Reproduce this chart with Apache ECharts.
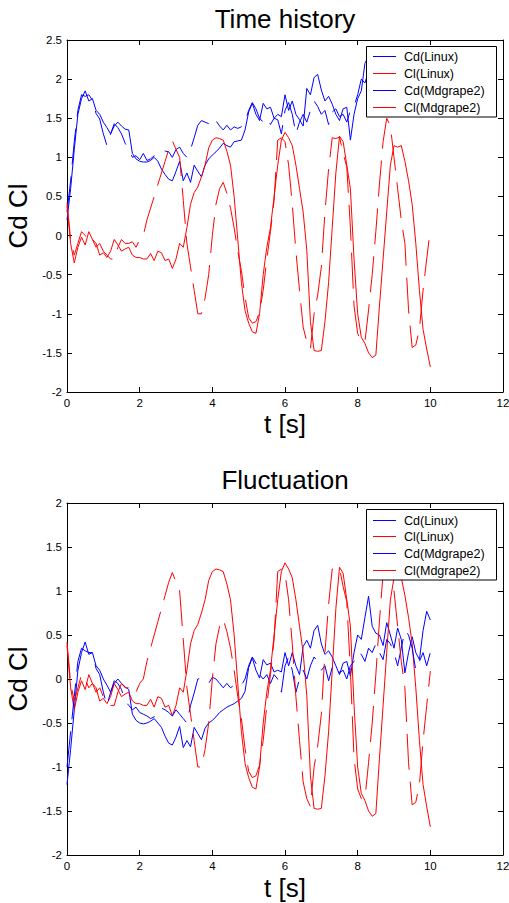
<!DOCTYPE html>
<html>
<head>
<meta charset="utf-8">
<script src="https://cdn.jsdelivr.net/npm/echarts@6/dist/echarts.min.js"></script>
<style>
html,body{margin:0;padding:0;background:#fff;}
#chart{width:509px;height:903px;}
</style>
</head>
<body>
<div id="chart"></div>
<script>
// time axis values (s)
var time = [0,0.1,0.2,0.3,0.4,0.5,0.6,0.7,0.8,0.9,
 1,1.1,1.2,1.3,1.4,1.5,1.6,1.7,1.8,1.9,
 2,2.1,2.2,2.3,2.4,2.5,2.6,2.7,2.8,2.9,
 3,3.1,3.2,3.3,3.4,3.5,3.6,3.7,3.8,3.9,
 4,4.1,4.2,4.3,4.4,4.5,4.6,4.7,4.8,4.9,
 5,5.1,5.2,5.3,5.4,5.5,5.6,5.7,5.8,5.9,
 6,6.1,6.2,6.3,6.4,6.5,6.6,6.7,6.8,6.9,
 7,7.1,7.2,7.3,7.4,7.5,7.6,7.7,7.8,7.9,
 8,8.1,8.2,8.3,8.4,8.5,8.6,8.7,8.8,8.9,
 9,9.1,9.2,9.3,9.4,9.5,9.6,9.7,9.8,9.9,10];

// Time history: Cd
var cdLinux = [0.2,0.6,1.1,1.55,1.75,1.85,1.72,1.75,1.6,1.55,
 1.45,1.38,1.3,1.4,1.45,1.4,1.36,1.35,1.05,0.98,
 0.95,0.94,0.94,0.96,1.0,0.95,0.85,0.78,0.72,0.7,
 0.82,0.95,0.7,0.8,0.68,0.9,0.82,0.75,0.9,0.98,
 1.03,1.07,1.12,1.18,1.15,1.13,1.2,1.21,1.22,1.35,
 1.58,1.69,1.55,1.47,1.69,1.62,1.64,1.5,1.55,1.52,
 1.8,1.6,1.72,1.55,1.48,1.4,1.88,1.8,2.02,2.06,
 1.86,1.72,1.78,1.68,1.55,1.47,1.62,1.64,1.22,1.55,
 1.75,1.85,2.2,2.3,2.2,2.15,2.05,1.95,2.1,2.0,
 1.9,2.05,2.0,1.7,1.85,2.0,1.85,1.8,2.05,2.25,2.15];
var cdMdgrape = [0.3,0.7,1.2,1.6,1.8,1.78,1.8,1.73,1.56,1.49,
 1.3,1.15,1.3,1.43,1.38,1.3,1.18,1.1,1.0,1.02,
 0.97,1.05,0.96,0.98,1.02,1.05,1.09,1.08,1.07,1.0,
 1.1,1.13,1.05,1.0,1.1,1.25,1.41,1.47,1.45,1.43,
 1.5,1.47,1.4,1.35,1.41,1.35,1.39,1.37,1.39,1.45,
 1.6,1.7,1.62,1.5,1.45,1.5,1.42,1.5,1.48,1.3,
 1.6,1.7,1.55,1.3,1.45,1.55,1.45,1.6,1.72,1.65,
 1.55,1.6,1.42,1.58,1.62,1.52,1.55,1.45,1.6,1.65,
 1.8,2.0,1.95,2.1,2.0,2.1,1.95,1.85,2.1,2.0,
 1.9,1.75,1.95,2.15,2.1,1.95,1.7,1.8,1.9,1.75,1.9];

// Cl (same in both panels)
var clLinux = [0.38,-0.1,-0.35,-0.15,-0.02,-0.12,0.05,-0.05,-0.1,-0.25,
 -0.22,-0.28,-0.2,-0.05,-0.12,-0.2,-0.17,-0.15,-0.25,-0.28,
 -0.28,-0.3,-0.3,-0.23,-0.32,-0.2,-0.22,-0.32,-0.3,-0.42,
 -0.3,-0.1,-0.15,0.1,0.4,0.55,0.62,0.75,0.9,1.12,
 1.22,1.25,1.24,1.22,1.08,0.9,0.5,-0.05,-0.6,-0.96,
 -1.12,-1.23,-1.25,-1.0,-0.5,-0.15,0.1,0.5,0.9,1.22,
 1.32,1.25,1.15,0.9,0.6,0.3,-0.19,-1.1,-1.47,-1.48,
 -1.47,-1.1,-0.6,0.1,0.8,1.27,1.2,0.9,0.6,-0.3,
 -1.0,-1.3,-1.38,-1.5,-1.56,-1.53,-0.9,-0.3,0.3,0.9,
 1.15,1.13,1.15,0.95,0.7,0.4,-0.1,-0.7,-1.2,-1.45,-1.68];
var clMdgrape = [0.42,-0.05,-0.25,-0.1,0.05,0.0,-0.1,-0.05,-0.15,-0.1,
 -0.2,-0.25,-0.3,-0.3,-0.15,-0.05,-0.1,-0.1,-0.08,-0.15,
 -0.05,0.0,0.2,0.35,0.5,0.65,0.8,0.95,1.1,1.21,
 1.1,1.0,0.45,-0.1,-0.4,-0.7,-1.0,-1.0,-0.8,-0.5,
 0.0,0.4,0.6,0.68,0.54,0.35,0.1,-0.2,-0.45,-0.79,
 -1.05,-1.12,-1.1,-0.98,-0.7,-0.3,0.05,0.45,1.22,1.25,
 1.2,0.9,0.4,-0.2,-0.7,-1.17,-1.36,-1.45,-1.0,-0.76,
 -0.4,0.3,0.85,1.25,1.24,1.26,1.05,0.88,0.1,-0.9,
 -1.25,-1.36,-1.36,-0.95,-0.5,0.05,0.66,1.2,1.5,1.4,
 1.0,0.6,0.2,-0.1,-0.95,-1.43,-1.4,-1.2,-0.7,-0.3,0.09];

// Fluctuation: Cd
var cdLinuxFluc = [-1.2,-0.8,-0.35,0.1,0.3,0.42,0.28,0.3,0.15,0.1,
 0.0,-0.07,-0.15,-0.05,0.0,-0.05,-0.09,-0.12,-0.4,-0.47,
 -0.5,-0.51,-0.5,-0.48,-0.45,-0.5,-0.55,-0.65,-0.73,-0.75,
 -0.66,-0.54,-0.78,-0.7,-0.77,-0.55,-0.62,-0.69,-0.56,-0.5,
 -0.47,-0.43,-0.38,-0.35,-0.32,-0.3,-0.28,-0.25,-0.22,-0.14,
 0.13,0.24,0.1,0.01,0.22,0.16,0.18,0.08,0.1,0.08,
 0.3,0.15,0.3,0.15,0.05,0.37,0.44,0.35,0.55,0.61,
 0.4,0.28,0.32,0.25,0.15,0.05,0.18,0.2,0.03,0.3,
 0.5,0.45,0.7,0.94,0.6,0.52,0.5,0.38,0.64,0.5,
 0.35,0.58,0.45,0.07,0.3,0.48,0.3,0.22,0.55,0.77,0.67];
var cdMdgrapeFluc = [-1.0,-0.6,-0.2,0.2,0.35,0.32,0.3,0.3,0.12,0.05,
 -0.15,-0.3,-0.15,-0.02,-0.05,-0.12,-0.25,-0.3,-0.35,-0.32,
 -0.38,-0.4,-0.42,-0.45,-0.43,-0.35,-0.33,-0.35,-0.38,-0.42,
 -0.35,-0.4,-0.45,-0.5,-0.3,-0.16,0.0,0.01,-0.02,-0.05,
 0.02,0.0,-0.05,-0.1,-0.05,-0.1,-0.07,-0.09,-0.07,0.0,
 0.15,0.25,0.18,0.05,0.0,0.05,-0.05,0.05,0.0,-0.15,
 0.15,0.25,0.1,-0.15,0.0,0.1,0.0,0.15,0.25,0.2,
 0.1,0.15,-0.02,0.13,0.17,0.07,0.1,0.0,0.15,0.2,
 0.3,0.28,0.2,0.35,0.3,0.4,0.3,0.22,0.45,0.4,
 0.3,0.15,0.35,0.55,0.5,0.35,0.1,0.2,0.3,0.15,0.3];

var seriesNames = ['Cd(Linux)', 'Cl(Linux)', 'Cd(Mdgrape2)', 'Cl(Mdgrape2)'];
var titles = ['Time history', 'Fluctuation'];
var xTitle = 't [s]';
var yTitle = 'Cd Cl';

var FONT = '"Liberation Sans", Arial, Helvetica, sans-serif';
var BLUE = '#0000ff', RED = '#ff0000';
var seriesColors = [BLUE, RED, BLUE, RED];
var DASH = [36, 12];

function pairs(arr) { return time.map(function (t, i) { return [t, arr[i]]; }); }

function mkSeries(name, arr, color, dashed, gi) {
  return {
    name: name, type: 'line', xAxisIndex: gi * 2, yAxisIndex: gi * 2,
    data: pairs(arr), symbol: 'none', showSymbol: false, animation: false,
    color: color,
    itemStyle: { color: color },
    lineStyle: { color: color, width: 1, type: dashed ? DASH : 'solid' },
    emphasis: { disabled: true }, silent: true
  };
}

var tickStyle = { color: '#000', width: 1 };
function xAxes(gi, nameGap) {
  return [
    { gridIndex: gi, type: 'value', min: 0, max: 12, interval: 2, position: 'bottom',
      axisLine: { show: true, onZero: false, lineStyle: tickStyle },
      axisTick: { show: true, inside: true, length: 5, lineStyle: tickStyle },
      axisLabel: { show: true, margin: 5, fontSize: 11.5, color: '#000', fontFamily: FONT },
      splitLine: { show: false },
      name: xTitle, nameLocation: 'middle', nameGap: nameGap,
      nameTextStyle: { fontSize: 26, color: '#000', fontFamily: FONT } },
    { gridIndex: gi, type: 'value', min: 0, max: 12, interval: 2, position: 'top',
      axisLine: { show: true, onZero: false, lineStyle: tickStyle },
      axisTick: { show: true, inside: true, length: 5, lineStyle: tickStyle },
      axisLabel: { show: false }, splitLine: { show: false } }
  ];
}
function yAxes(gi, max) {
  return [
    { gridIndex: gi, type: 'value', min: -2, max: max, interval: 0.5, position: 'left',
      axisLine: { show: true, onZero: false, lineStyle: tickStyle },
      axisTick: { show: true, inside: true, length: 5, lineStyle: tickStyle },
      axisLabel: { show: true, margin: 5, fontSize: 11.5, color: '#000', fontFamily: FONT },
      splitLine: { show: false },
      name: yTitle, nameLocation: 'middle', nameRotate: 90, nameGap: 32,
      nameTextStyle: { fontSize: 26, color: '#000', fontFamily: FONT } },
    { gridIndex: gi, type: 'value', min: -2, max: max, interval: 0.5, position: 'right',
      axisLine: { show: true, onZero: false, lineStyle: tickStyle },
      axisTick: { show: true, inside: true, length: 5, lineStyle: tickStyle },
      axisLabel: { show: false }, splitLine: { show: false } }
  ];
}

// legend box drawn as graphic (box, sample lines, real text labels)
function legendBox(left, top, rows) {
  var children = [{
    type: 'rect', z: 100,
    shape: { x: 0.5, y: 0.5, width: 130, height: 70.5 },
    style: { fill: '#fff', stroke: '#000', lineWidth: 1 }
  }];
  seriesNames.forEach(function (n, i) {
    children.push({
      type: 'line', z: 101,
      shape: { x1: 7, y1: rows[i], x2: 30, y2: rows[i] },
      style: { stroke: seriesColors[i], lineWidth: 1 }
    });
    children.push({
      type: 'text', z: 101, x: 38, y: rows[i],
      style: { text: n, fill: '#000', font: '12.5px ' + FONT,
        textVerticalAlign: 'middle', verticalAlign: 'middle',
        textAlign: 'left', align: 'left' }
    });
  });
  return { type: 'group', left: left, top: top, children: children };
}

var chart = echarts.init(document.getElementById('chart'), null, { renderer: 'svg' });
chart.setOption({
  animation: false,
  backgroundColor: '#fff',
  title: [
    { text: titles[0], left: 285, top: 6, textAlign: 'center', padding: 0,
      textStyle: { fontSize: 26, fontWeight: 'normal', color: '#000', fontFamily: FONT } },
    { text: titles[1], left: 285, top: 467, textAlign: 'center', padding: 0,
      textStyle: { fontSize: 26, fontWeight: 'normal', color: '#000', fontFamily: FONT } }
  ],
  grid: [
    { left: 67, top: 40, width: 436, height: 352, outerBoundsMode: 'none', containLabel: false },
    { left: 67, top: 503, width: 436, height: 352, outerBoundsMode: 'none', containLabel: false }
  ],
  xAxis: xAxes(0, 19).concat(xAxes(1, 20)),
  yAxis: yAxes(0, 2.5).concat(yAxes(1, 2)),
  graphic: [
    legendBox(366, 46, [10.5, 27.5, 44.5, 61.5]),
    legendBox(366, 509, [11.5, 27.5, 44.5, 61.5])
  ],
  series: [
    mkSeries(seriesNames[0], cdLinux, BLUE, false, 0),
    mkSeries(seriesNames[1], clLinux, RED, false, 0),
    mkSeries(seriesNames[2], cdMdgrape, BLUE, true, 0),
    mkSeries(seriesNames[3], clMdgrape, RED, true, 0),
    mkSeries(seriesNames[0], cdLinuxFluc, BLUE, false, 1),
    mkSeries(seriesNames[1], clLinux, RED, false, 1),
    mkSeries(seriesNames[2], cdMdgrapeFluc, BLUE, true, 1),
    mkSeries(seriesNames[3], clMdgrape, RED, true, 1)
  ]
});
</script>
</body>
</html>
